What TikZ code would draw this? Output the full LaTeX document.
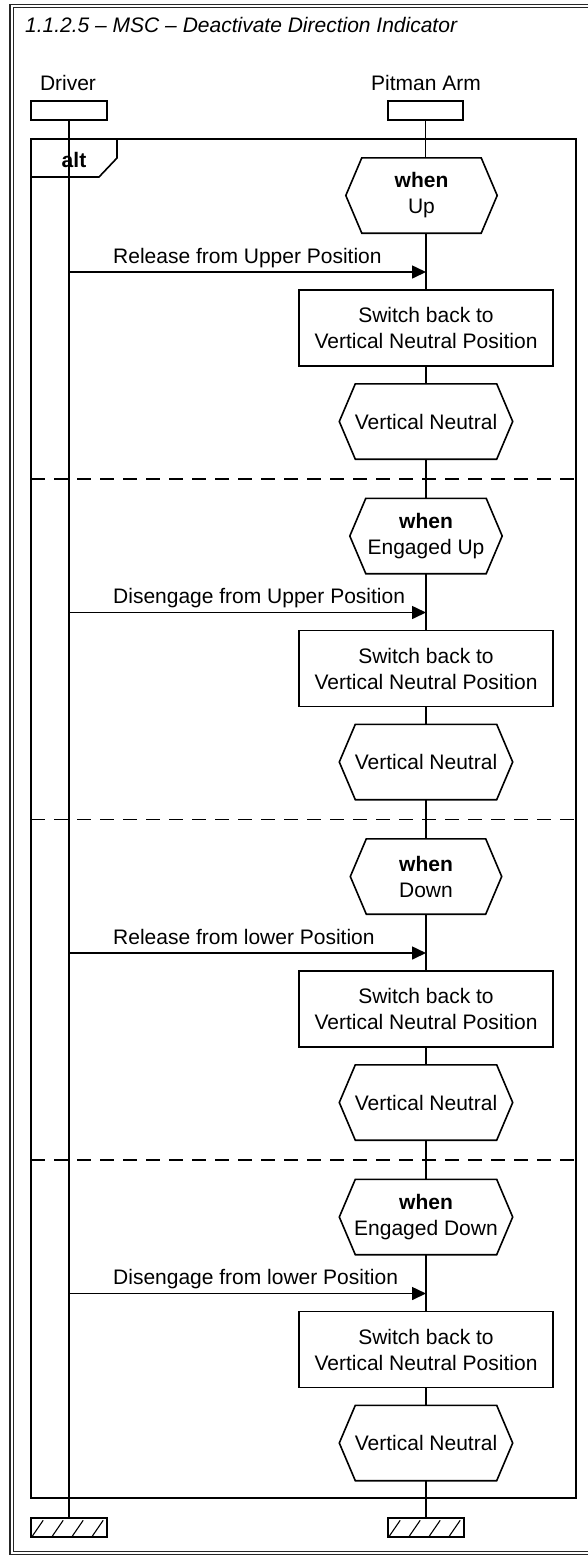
\documentclass[tikz,border=0pt]{standalone}
\usepackage{fontspec}
\setmainfont{Liberation Sans}
\usetikzlibrary{arrows.meta}
\newcommand\dfont{\fontsize{21}{26}\selectfont}
\tikzset{
  ln/.style={line width=1.6pt},
  hexbox/.style={rectangle, minimum height=75pt, inner sep=0pt, align=center, font=\dfont},
  actbox/.style={draw, line width=1.6pt, rectangle, minimum width=254pt, minimum height=76pt, inner sep=0pt, align=center, font=\dfont},
  headbox/.style={draw, line width=1.6pt, rectangle, minimum width=76pt, minimum height=19pt, inner sep=0pt},
  msg/.style={line width=1.6pt, -{Triangle[length=14pt,width=13pt]}},
  sep/.style={line width=1.6pt, dash pattern=on 14pt off 9pt},
  frameln/.style={line width=1.1pt, draw=black!85},
  hatch/.style={line width=1.1pt},
  lbl/.style={font=\dfont, inner sep=0pt},
}
\newcommand\hexat[5]{%
  \node[hexbox, minimum width=#4pt] (#1) at (#2,#3) {#5};
  \draw[ln] (#1.west) -- ([xshift=16pt]#1.north west) -- ([xshift=-16pt]#1.north east)
    -- (#1.east) -- ([xshift=-16pt]#1.south east) -- ([xshift=16pt]#1.south west) -- cycle;
}
% #1 index, #2 y offset, #3 hex text, #4 hex width, #5 hex x, #6 message
\newcommand\altsec[6]{%
  \hexat{w#1}{#5}{195.5+#2}{#4}{\textbf{when}\\#3}
  \coordinate (d#1) at (68,272+#2);
  \coordinate (p#1) at (426,272+#2);
  \draw[msg] (d#1) -- (p#1);
  \node[lbl, anchor=base west] (m#1) at (113,263+#2) {#6};
  \node[actbox] (b#1) at (426,328+#2) {Switch back to\\Vertical Neutral Position};
  \hexat{v#1}{426}{421.5+#2}{173}{Vertical Neutral}
  \draw[ln] (b#1.north) -- (b#1.north |- w#1.south);
  \draw[ln] (b#1.south) -- (v#1.north);
}
\begin{document}
\begin{tikzpicture}[x=1pt,y=-1pt]
\useasboundingbox (0,0) rectangle (588,1556);
% outer frame (double line, open to the right beyond the page)
\draw[frameln] (10,4.5) rectangle (640,1554.5);
\draw[frameln] (13.5,7.8) rectangle (636,1551.3);
\node[lbl, anchor=base west, font=\dfont\itshape] (title) at (25,32) {1.1.2.5 – MSC – Deactivate Direction Indicator};
% instance heads
\node[lbl] (dlab) at (68,83) {Driver};
\node[headbox] (dbox) at (69,110.5) {};
\node[lbl] (plab) at (426,83) {Pitman Arm};
\node[headbox, minimum width=75pt] (pbox) at (425.5,110.5) {};
% instance ends
\node[headbox] (dend) at (69,1527.5) {};
\node[headbox] (pend) at (426,1527.5) {};
\foreach \e in {dend,pend}{
  \foreach \i in {0,1,2,3}{
    \pgfmathsetmacro\hx{2+20*\i}
    \draw[hatch] ([xshift=\hx pt, yshift=1.5pt]\e.south west) -- ++(11pt,16pt);
  }
}
% alt frame
\draw[ln] (31,139) rectangle (576,1498);
\draw[ln] (31,177) -- (99,177) -- (117,158) -- (117,139);
\node[lbl, font=\dfont\bfseries] (alt) at (74,159.5) {alt};
% separators
\draw[sep] (31,479) -- (576,479);
\draw[sep] (31,819.5) -- (576,819.5);
\draw[sep] (31,1160) -- (576,1160);
% sections
\altsec{1}{0}{Up}{151}{421.5}{Release from Upper Position}
\altsec{2}{340.5}{Engaged Up}{152}{426}{Disengage from Upper Position}
\altsec{3}{681}{Down}{151}{426}{Release from lower Position}
\altsec{4}{1021.5}{Engaged Down}{173}{426}{Disengage from lower Position}
% lifelines
\draw[ln] (dbox.south) -- (dend.north);
\draw[ln] (pbox.south) -- (pbox.south |- w1.north);
\draw[ln] (v1.south) -- (w2.north);
\draw[ln] (v2.south) -- (w3.north);
\draw[ln] (v3.south) -- (w4.north);
\draw[ln] (v4.south) -- (pend.north);
\end{tikzpicture}
\end{document}
